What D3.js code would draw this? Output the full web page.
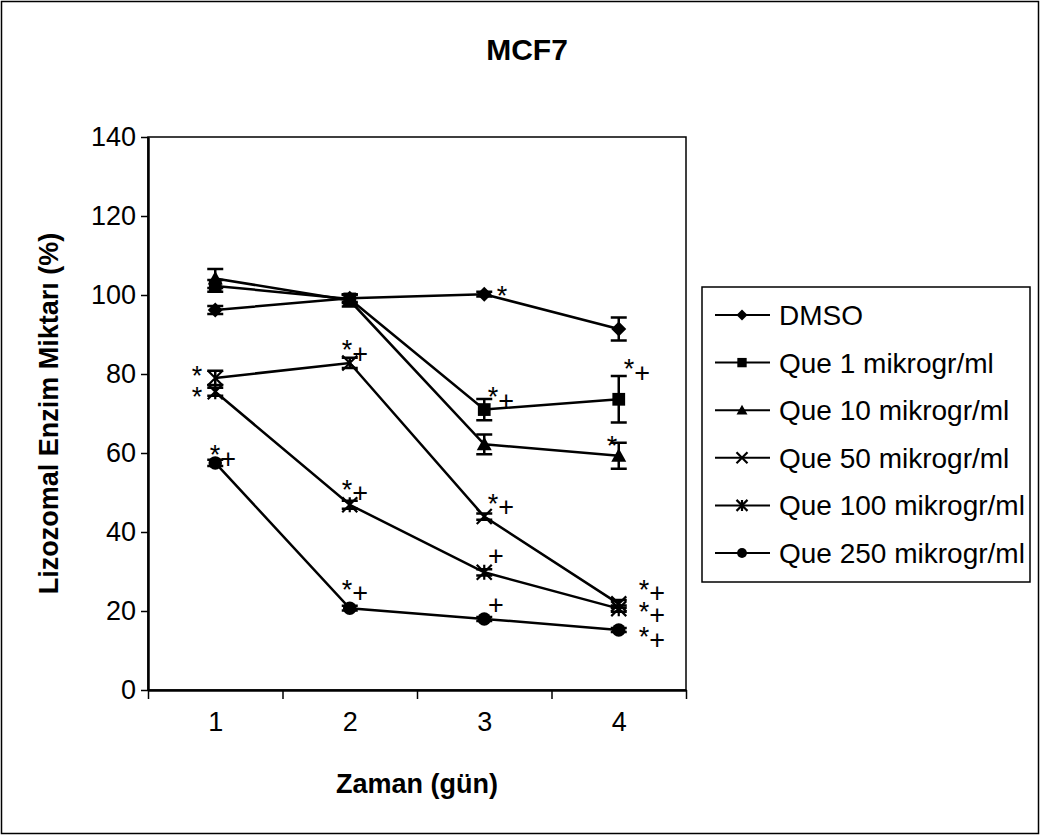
<!DOCTYPE html>
<html>
<head>
<meta charset="utf-8">
<script src="https://cdn.jsdelivr.net/npm/d3@7"></script>
<style>
  body { margin: 0; background: #fff; }
  svg { display: block; font-family: "Liberation Sans", Arial, sans-serif; }
  .axis path, .axis line { stroke: #000; }
  .axis text { fill: #000; }
</style>
</head>
<body>
<div id="chart"></div>
<script>
// days on the x axis
const days = [1, 2, 3, 4];
const yTicks = [0, 20, 40, 60, 80, 100, 120, 140];

// series names (legend order)
const seriesNames = ['DMSO', 'Que 1 mikrogr/ml', 'Que 10 mikrogr/ml', 'Que 50 mikrogr/ml', 'Que 100 mikrogr/ml', 'Que 250 mikrogr/ml'];
const seriesSymbols = ['diamond', 'square', 'triangle', 'x', 'asterisk', 'circle'];

// mean values (%) per day
const dmso = [96.2, 99.2, 100.2, 91.4];
const que1 = [102.3, 99.0, 71.0, 73.6];
const que10 = [104.2, 98.6, 62.2, 59.3];
const que50 = [79.0, 82.8, 43.9, 21.8];
const que100 = [75.5, 46.9, 29.8, 20.6];
const que250 = [57.5, 20.7, 18.0, 15.2];

// error (+/-) per day
const dmsoErr = [1, 1, 0.6, 2.9];
const que1Err = [1.5, 1, 2.7, 5.9];
const que10Err = [2.4, 1.5, 2.5, 3.3];
const que50Err = [1.8, 1.3, 0.8, 1];
const que100Err = [1, 1, 0.8, 0.8];
const que250Err = [0.8, 0.6, 0.5, 0.5];

// significance marks: day, values (one line each), label
const marks = [
  { day: 3.132, values: [101.2], label: '*' },
  { day: 3.065, values: [75.6], label: '*+' },
  { day: 4.076, values: [82.7], label: '*+' },
  { day: 3.95, values: [63.4], label: '*' },
  { day: 3.065, values: [48.7], label: '*+' },
  { day: 3.087, values: [34.0], label: '+' },
  { day: 3.087, values: [21.6], label: '+' },
  { day: 4.188, values: [26.9, 21.3, 15.0], label: '*+' },
  { day: 1.98, values: [87.5], label: '*+' },
  { day: 1.98, values: [52.2], label: '*+' },
  { day: 1.98, values: [26.9], label: '*+' },
  { day: 0.864, values: [80.9, 75.6], label: '*' },
  { day: 0.998, values: [60.9], label: '*+' }
];

const values = [dmso, que1, que10, que50, que100, que250];
const errors = [dmsoErr, que1Err, que10Err, que50Err, que100Err, que250Err];
const series = seriesNames.map((name, i) => ({
  name,
  symbol: seriesSymbols[i],
  points: days.map((d, j) => ({ day: d, value: values[i][j], err: errors[i][j] }))
}));

const W = 1040, H = 835;
const margin = { top: 137, right: 354, bottom: 145, left: 148 };
const font = '"Liberation Sans", Arial, sans-serif';

const svg = d3.select('#chart').append('svg')
  .attr('width', W)
  .attr('height', H);

// outer chart border
svg.append('rect')
  .attr('x', 1.5).attr('y', 1.5)
  .attr('width', W - 3).attr('height', H - 3)
  .attr('fill', 'none').attr('stroke', '#000').attr('stroke-width', 1.5);

const x = d3.scaleLinear().domain([0.5, 4.5]).range([margin.left, W - margin.right]);
const y = d3.scaleLinear().domain([0, 140]).range([H - margin.bottom, margin.top]);

// plot frame
svg.append('rect')
  .attr('x', x(0.5)).attr('y', y(140))
  .attr('width', x(4.5) - x(0.5)).attr('height', y(0) - y(140))
  .attr('fill', 'none').attr('stroke', '#000').attr('stroke-width', 1.5);

// axes
svg.append('g')
  .attr('class', 'axis x')
  .attr('transform', `translate(0,${y(0)})`)
  .call(d3.axisBottom(x).tickValues([0.5, 1.5, 2.5, 3.5, 4.5]).tickFormat('').tickSize(9).tickSizeOuter(0))
  .call(g => g.select('.domain').attr('stroke-width', 2.5))
  .call(g => g.selectAll('.tick line').attr('stroke-width', 1.5));

svg.append('g')
  .attr('class', 'axis x-labels')
  .attr('transform', `translate(0,${y(0)})`)
  .call(d3.axisBottom(x).tickValues(days).tickFormat(d3.format('d')).tickSize(0).tickPadding(22))
  .call(g => g.select('.domain').remove())
  .call(g => g.selectAll('text').attr('font-size', 27).attr('font-family', font));

svg.append('g')
  .attr('class', 'axis y')
  .attr('transform', `translate(${x(0.5)},0)`)
  .call(d3.axisLeft(y).tickValues(yTicks).tickSize(7).tickPadding(5).tickSizeOuter(0))
  .call(g => g.select('.domain').attr('stroke-width', 2.5))
  .call(g => g.selectAll('.tick line').attr('stroke-width', 1.5))
  .call(g => g.selectAll('text').attr('font-size', 27).attr('font-family', font));

// titles
svg.append('text')
  .attr('x', 527).attr('y', 60)
  .attr('text-anchor', 'middle')
  .attr('font-size', 30).attr('font-weight', 'bold')
  .text('MCF7');

svg.append('text')
  .attr('x', (x(0.5) + x(4.5)) / 2).attr('y', 793)
  .attr('text-anchor', 'middle')
  .attr('font-size', 27).attr('font-weight', 'bold')
  .text('Zaman (gün)');

svg.append('text')
  .attr('transform', `translate(58,${(y(0) + y(140)) / 2}) rotate(-90)`)
  .attr('text-anchor', 'middle')
  .attr('font-size', 27).attr('font-weight', 'bold')
  .text('Lizozomal Enzim Miktarı (%)');

// marker drawing
function drawMarker(g, type, s) {
  const h = s / 2;
  if (type === 'diamond') {
    g.append('path').attr('d', `M0,${-h}L${h},0L0,${h}L${-h},0Z`).attr('fill', '#000');
  } else if (type === 'square') {
    g.append('rect').attr('x', -h * 0.85).attr('y', -h * 0.85).attr('width', s * 0.85).attr('height', s * 0.85).attr('fill', '#000');
  } else if (type === 'triangle') {
    g.append('path').attr('d', `M0,${-h}L${h},${h * 0.8}L${-h},${h * 0.8}Z`).attr('fill', '#000');
  } else if (type === 'circle') {
    g.append('circle').attr('r', h * 0.9).attr('fill', '#000');
  } else if (type === 'x') {
    g.append('path').attr('d', `M${-h},${-h}L${h},${h}M${h},${-h}L${-h},${h}`)
      .attr('stroke', '#000').attr('stroke-width', 2.2);
  } else if (type === 'asterisk') {
    g.append('path').attr('d', `M${-h},${-h}L${h},${h}M${h},${-h}L${-h},${h}M0,${-h}L0,${h}`)
      .attr('stroke', '#000').attr('stroke-width', 2.2);
  }
}

const line = d3.line().x(d => x(d.day)).y(d => y(d.value));

const plot = svg.append('g').attr('class', 'plot');

// lines
plot.selectAll('path.series')
  .data(series)
  .join('path')
  .attr('class', 'series')
  .attr('d', d => line(d.points))
  .attr('fill', 'none')
  .attr('stroke', '#000')
  .attr('stroke-width', 2.5);

// error bars
const capW = 8;
series.forEach(s => {
  const eg = plot.append('g').attr('class', 'err');
  s.points.forEach(p => {
    const cx = x(p.day), y1 = y(p.value + p.err), y2 = y(p.value - p.err);
    eg.append('path')
      .attr('d', `M${cx},${y1}L${cx},${y2}M${cx - capW},${y1}L${cx + capW},${y1}M${cx - capW},${y2}L${cx + capW},${y2}`)
      .attr('stroke', '#000').attr('stroke-width', 2.5).attr('fill', 'none');
  });
});

// markers
series.forEach(s => {
  s.points.forEach(p => {
    const g = plot.append('g').attr('transform', `translate(${x(p.day)},${y(p.value)})`);
    drawMarker(g, s.symbol, 15);
  });
});

// significance marks: the star glyph is centred on (day, value); a "+" that
// follows it sits a little lower, as in the original figure
const markSize = 27;
const starHalf = 0.389 * markSize / 2;
plot.selectAll('text.mark')
  .data(marks)
  .join('text')
  .attr('class', 'mark')
  .attr('font-size', markSize)
  .each(function (m) {
    const t = d3.select(this);
    m.values.forEach(v => {
      const cx = x(m.day), cy = y(v);
      if (m.label[0] === '*') {
        t.append('tspan').attr('x', cx - starHalf).attr('y', cy + 15).text('*');
        if (m.label.length > 1) t.append('tspan').attr('dy', 3.5).text('+');
      } else {
        t.append('tspan').attr('x', cx - 0.584 * markSize / 2).attr('y', cy + 9.5).text('+');
      }
    });
  });

// legend
const legend = svg.append('g').attr('class', 'legend').attr('transform', 'translate(702,287)');
legend.append('rect')
  .attr('width', 328).attr('height', 295)
  .attr('fill', '#fff').attr('stroke', '#000').attr('stroke-width', 1.5);

const items = legend.selectAll('g.item')
  .data(series)
  .join('g')
  .attr('class', 'item')
  .attr('transform', (d, i) => `translate(0,${28 + i * 47.6})`);

items.append('line')
  .attr('x1', 13).attr('x2', 68)
  .attr('stroke', '#000').attr('stroke-width', 2);

items.each(function (d) {
  const g = d3.select(this).append('g').attr('transform', 'translate(40,0)');
  drawMarker(g, d.symbol, 11);
});

items.append('text')
  .attr('x', 77).attr('y', 10)
  .attr('font-size', 28)
  .text(d => d.name);
</script>
</body>
</html>
